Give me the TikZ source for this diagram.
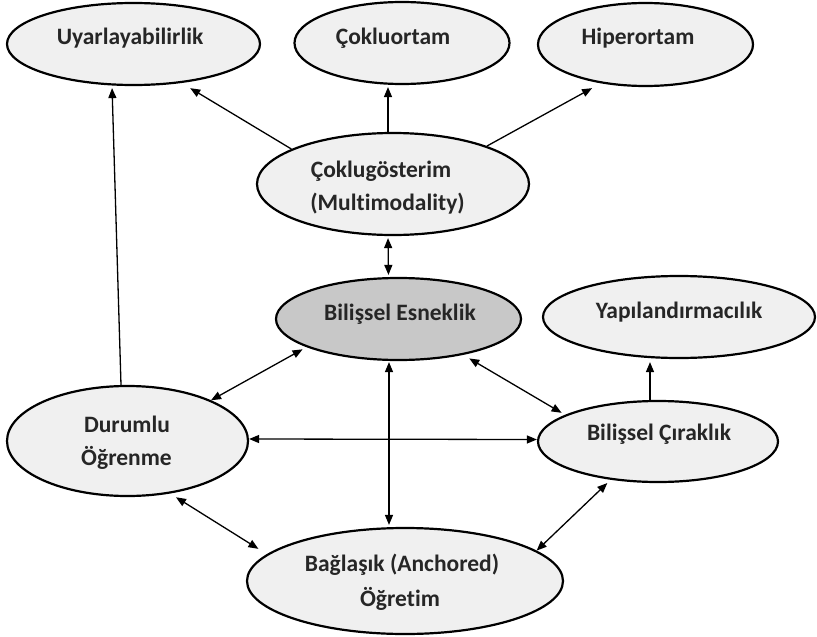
\documentclass[tikz,border=0pt]{standalone}
\usepackage{fontspec}
\setmainfont[Ligatures=NoCommon]{Carlito}
\usetikzlibrary{shapes.geometric,arrows.meta}

\definecolor{ellfill}{HTML}{F0F0F0}
\definecolor{corefill}{HTML}{C8C8C8}
\definecolor{inktext}{HTML}{262626}

\tikzset{
  ell/.style={ellipse, draw=black, line width=2.2pt, fill=ellfill, inner sep=0pt},
  core/.style={ell, fill=corefill},
  lbl/.style={font=\bfseries\fontsize{23.5}{28}\selectfont, text=inktext, inner sep=0pt, anchor=base},
  tip/.tip={Triangle[length=10pt,width=8pt]},
  oneway/.style={line width=1.3pt, -tip},
  twoway/.style={line width=1.3pt, tip-tip}
}

\begin{document}
\begin{tikzpicture}[x=1pt,y=-1pt]
\useasboundingbox (0,0) rectangle (817,637);

% ellipses
\node[ell, minimum width=253pt, minimum height=82pt] (u) at (133.5,44) {};
\node[ell, minimum width=215pt, minimum height=82pt] (co) at (402,43) {};
\node[ell, minimum width=215pt, minimum height=83pt] (h) at (645.5,44.5) {};
\node[ell, minimum width=272pt, minimum height=102pt] (cg) at (393,184) {};
\node[core, minimum width=245pt, minimum height=82pt] (be) at (398.5,319) {};
\node[ell, minimum width=272pt, minimum height=82pt] (y) at (679,317) {};
\node[ell, minimum width=241pt, minimum height=110pt] (d) at (127.5,441) {};
\node[ell, minimum width=240pt, minimum height=81pt] (bc) at (658,441.5) {};
\node[ell, minimum width=316pt, minimum height=106pt] (ba) at (405,581) {};

% texts, placed by baseline
\node[lbl] (u-t)   at ([xshift=-3.5pt,yshift=-1pt]u.center) {Uyarlayabilirlik};
\node[lbl] (co-t)  at ([xshift=-9pt,yshift=-2pt]co.center) {Çokluortam};
\node[lbl] (h-t)   at ([xshift=-7.5pt,yshift=-0.5pt]h.center) {Hiperortam};
\node[lbl] (cg-t1) at ([xshift=-12pt,yshift=7pt]cg.center) {Çoklugösterim};
\node[lbl] (cg-t2) at ([xshift=-5.5pt,yshift=-26pt]cg.center) {(Multimodality)};
\node[lbl] (be-t)  at ([xshift=1.5pt,yshift=-1pt]be.center) {Bilişsel Esneklik};
\node[lbl] (y-t)   at ([yshift=-1pt]y.center) {Yapılandırmacılık};
\node[lbl] (d-t1)  at ([xshift=-0.5pt,yshift=8.3pt]d.center) {Durumlu};
\node[lbl] (d-t2)  at ([xshift=-1pt,yshift=-24pt]d.center) {Öğrenme};
\node[lbl] (bc-t)  at ([xshift=1pt,yshift=1.5pt]bc.center) {Bilişsel Çıraklık};
\node[lbl] (ba-t1) at ([xshift=-3pt,yshift=9.3pt]ba.center) {Bağlaşık (Anchored)};
\node[lbl] (ba-t2) at ([xshift=-5pt,yshift=-25pt]ba.center) {Öğretim};

% connectors
\draw[oneway, shorten >=10pt] (cg.161) -- (u.-39.4);
\draw[oneway, shorten >=2pt] ([xshift=-5pt]cg.north) -- ([xshift=-14pt]co.south);
\draw[oneway, shorten >=10pt] (cg.22) -- (h.-139.7);
\draw[twoway, shorten <=2pt, shorten >=2pt] ([xshift=-5pt]cg.south) -- ([xshift=-10pt]be.north);
\draw[oneway, shorten >=2pt] ([xshift=-6.5pt]d.north) -- ([xshift=-21.5pt]u.south);
\draw[twoway, shorten >=4.5pt] (d.26.9) -- (be.-163.8);
\draw[twoway] ([yshift=2pt]d.east) -- ([yshift=2pt]bc.west);
\draw[twoway, shorten <=7pt, shorten >=10pt] (d.-51.9) -- (ba.169.5);
\draw[twoway, shorten <=1pt, shorten >=2pt] ([xshift=-9.5pt]be.south) -- ([xshift=-16pt]ba.north);
\draw[twoway, shorten <=7pt, shorten >=4pt] (be.-29.9) -- (bc.164.7);
\draw[oneway, shorten >=3pt] ([xshift=-8pt]bc.north) -- ([xshift=-29pt]y.south);
\draw[twoway, shorten <=4.7pt] (bc.-141.8) -- (ba.13.9);
\end{tikzpicture}
\end{document}
